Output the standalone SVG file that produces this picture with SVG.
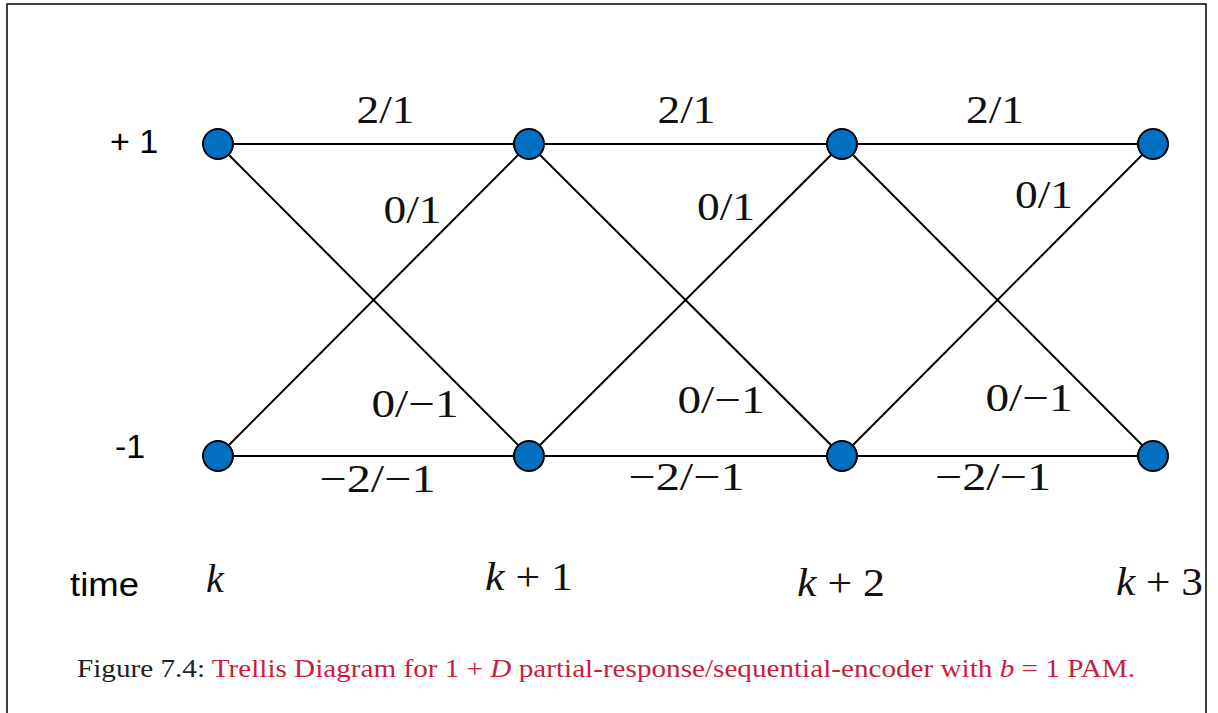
<svg xmlns="http://www.w3.org/2000/svg" width="1218" height="713" viewBox="0 0 1218 713">
<style>
.edge{stroke:#000;stroke-width:2;fill:none}
.node{fill:#0070C0;stroke:#000;stroke-width:2}
.m{font-family:"Liberation Serif",serif;font-size:40px;fill:#111;text-anchor:middle}
.s{font-family:"Liberation Sans",Arial,sans-serif;font-size:34px;fill:#000}
.cap{font-family:"Liberation Serif",serif;font-size:25px}
</style>
<rect width="1218" height="713" fill="#fff"/>
<path d="M7,720 V4 H1206 V720" fill="none" stroke="#000" stroke-width="1.5"/>
<g id="connectors">
<line class="edge" x1="218" y1="144" x2="1153" y2="144"/>
<line class="edge" x1="218" y1="456" x2="1153" y2="456"/>
<line class="edge" x1="218" y1="144" x2="529" y2="456"/>
<line class="edge" x1="218" y1="456" x2="529" y2="144"/>
<line class="edge" x1="529" y1="144" x2="842" y2="456"/>
<line class="edge" x1="529" y1="456" x2="842" y2="144"/>
<line class="edge" x1="842" y1="144" x2="1153" y2="456"/>
<line class="edge" x1="842" y1="456" x2="1153" y2="144"/>
</g>
<g id="n-top-0"><circle class="node" cx="218" cy="144" r="15"/></g>
<g id="n-top-1"><circle class="node" cx="529" cy="144" r="15"/></g>
<g id="n-top-2"><circle class="node" cx="842" cy="144" r="15"/></g>
<g id="n-top-3"><circle class="node" cx="1153" cy="144" r="15"/></g>
<g id="n-bot-0"><circle class="node" cx="218" cy="456" r="15"/></g>
<g id="n-bot-1"><circle class="node" cx="529" cy="456" r="15"/></g>
<g id="n-bot-2"><circle class="node" cx="842" cy="456" r="15"/></g>
<g id="n-bot-3"><circle class="node" cx="1153" cy="456" r="15"/></g>
<g id="edge-labels">
<text class="m" x="385.5" y="123" textLength="58" lengthAdjust="spacingAndGlyphs">2/1</text>
<text class="m" x="686.5" y="123" textLength="58" lengthAdjust="spacingAndGlyphs">2/1</text>
<text class="m" x="995" y="123" textLength="58" lengthAdjust="spacingAndGlyphs">2/1</text>
<text class="m" x="412.5" y="223" textLength="58" lengthAdjust="spacingAndGlyphs">0/1</text>
<text class="m" x="726" y="220" textLength="58" lengthAdjust="spacingAndGlyphs">0/1</text>
<text class="m" x="1044" y="208" textLength="58" lengthAdjust="spacingAndGlyphs">0/1</text>
<text class="m" x="415" y="417" textLength="87" lengthAdjust="spacingAndGlyphs">0/−1</text>
<text class="m" x="721" y="413" textLength="87" lengthAdjust="spacingAndGlyphs">0/−1</text>
<text class="m" x="1029" y="411" textLength="87" lengthAdjust="spacingAndGlyphs">0/−1</text>
<text class="m" x="377.5" y="492" textLength="116" lengthAdjust="spacingAndGlyphs">−2/−1</text>
<text class="m" x="686.5" y="490" textLength="116" lengthAdjust="spacingAndGlyphs">−2/−1</text>
<text class="m" x="993" y="490" textLength="116" lengthAdjust="spacingAndGlyphs">−2/−1</text>
</g>
<g id="axis-labels">
<text class="s" x="110" y="153">+ 1</text>
<text class="s" x="115" y="458">-1</text>
<text class="s" x="70" y="596" textLength="69" lengthAdjust="spacingAndGlyphs">time</text>
<text class="m" x="215" y="592" font-style="italic">k</text>
<text class="m" x="529" y="590" textLength="88" lengthAdjust="spacingAndGlyphs"><tspan font-style="italic">k</tspan> + 1</text>
<text class="m" x="841" y="596" textLength="88" lengthAdjust="spacingAndGlyphs"><tspan font-style="italic">k</tspan> + 2</text>
<text class="m" x="1159.5" y="595" textLength="87" lengthAdjust="spacingAndGlyphs"><tspan font-style="italic">k</tspan> + 3</text>
</g>
<text class="cap" x="77" y="677" textLength="1058" lengthAdjust="spacingAndGlyphs"><tspan fill="#222">Figure 7.4:  </tspan><tspan fill="#C81E3C">Trellis Diagram for 1 + <tspan font-style="italic">D</tspan> partial-response/sequential-encoder with <tspan font-style="italic">b</tspan> = 1 PAM.</tspan></text>
</svg>
